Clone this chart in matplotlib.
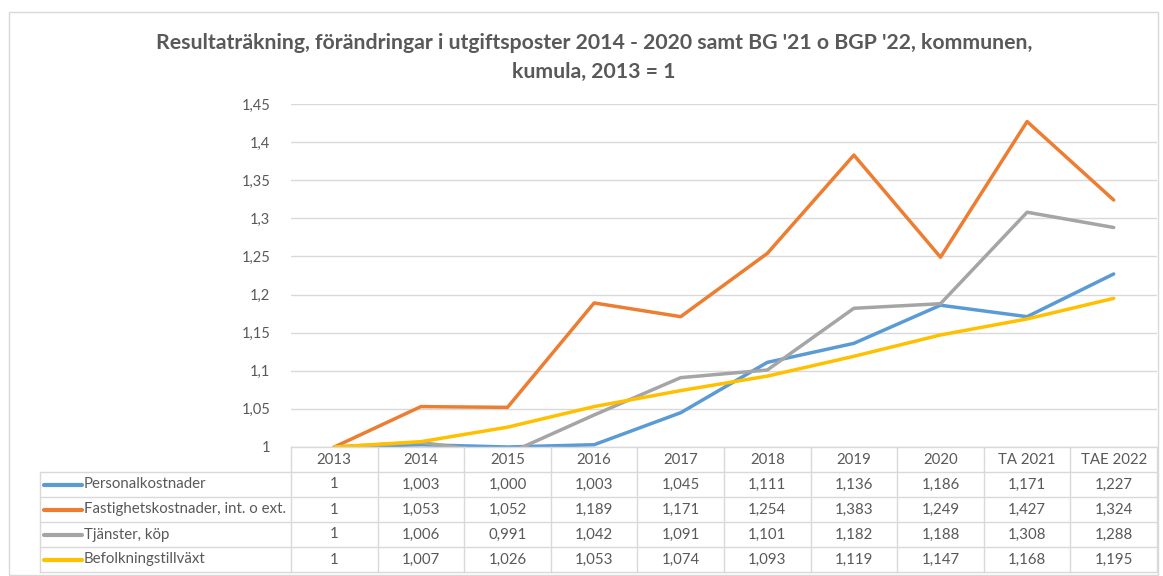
import matplotlib.pyplot as plt
from matplotlib.patches import Rectangle
from matplotlib.lines import Line2D

plt.rcParams['font.family'] = ['Lato', 'DejaVu Sans']

years = ['2013', '2014', '2015', '2016', '2017', '2018', '2019', '2020', 'TA 2021', 'TAE 2022']
personal = [1, 1.003, 1.000, 1.003, 1.045, 1.111, 1.136, 1.186, 1.171, 1.227]
fastighet = [1, 1.053, 1.052, 1.189, 1.171, 1.254, 1.383, 1.249, 1.427, 1.324]
tjanster = [1, 1.006, 0.991, 1.042, 1.091, 1.101, 1.182, 1.188, 1.308, 1.288]
befolkning = [1, 1.007, 1.026, 1.053, 1.074, 1.093, 1.119, 1.147, 1.168, 1.195]

series = [
    ('Personalkostnader', personal, '#5B9BD5'),
    ('Fastighetskostnader, int. o ext.', fastighet, '#ED7D31'),
    ('Tjänster, köp', tjanster, '#A5A5A5'),
    ('Befolkningstillväxt', befolkning, '#FFC000'),
]
yticks = [1, 1.05, 1.1, 1.15, 1.2, 1.25, 1.3, 1.35, 1.4, 1.45]

W, H = 1163, 576
text_col = '#595959'
grid_col = '#D9D9D9'


def box(x0, y0, x1, y1):
    # pixel box (top-left origin) -> figure rect
    return [x0 / W, 1 - y1 / H, (x1 - x0) / W, (y1 - y0) / H]


fig = plt.figure(figsize=(W / 100, H / 100), dpi=100)

# outer chart border
fig.patches.append(Rectangle((9 / W, 1 - 575 / H), (1158 - 9) / W, (575 - 12) / H,
                             transform=fig.transFigure, fill=False,
                             edgecolor=grid_col, linewidth=1))

fig.text(594 / W, 1 - 43 / H, "Resultaträkning, förändringar i utgiftsposter 2014 - 2020 samt BG '21 o BGP '22, kommunen,",
         ha='center', va='center', fontsize=15.3, fontweight='bold', color=text_col)
fig.text(594 / W, 1 - 72 / H, 'kumula, 2013 = 1',
         ha='center', va='center', fontsize=15.3, fontweight='bold', color=text_col)

# line chart
ax = fig.add_axes(box(291, 104, 1157, 447))
x = list(range(len(years)))
for name, vals, col in series:
    ax.plot(x, vals, color=col, linewidth=2.5, solid_capstyle='round', zorder=3)
ax.set_xlim(-0.5, len(years) - 0.5)
ax.set_ylim(1, 1.45)
ax.set_yticks(yticks)
ax.set_yticklabels([f'{v:g}'.replace('.', ',') for v in yticks])
ax.set_xticks([])
ax.tick_params(axis='y', length=0, pad=15, labelsize=10.5, labelcolor=text_col)
ax.grid(axis='y', color=grid_col, linewidth=1)
for s in ax.spines.values():
    s.set_visible(False)

# data table
col_w = (1157 - 291) / len(years)
left = -0.5 - (291 - 40) / col_w
tx = fig.add_axes(box(40, 447, 1157, 572))
tx.set_xlim(left, len(years) - 0.5)
tx.set_ylim(5, 0)
tx.axis('off')


def px(p):
    return left + (p - 40) / col_w


lw = 1
tx.plot([-0.5, len(years) - 0.5], [0, 0], color=grid_col, lw=lw, clip_on=False)
for r in range(1, 6):
    tx.plot([left, len(years) - 0.5], [r, r], color=grid_col, lw=lw, clip_on=False)
for k in range(len(years) + 1):
    tx.plot([k - 0.5, k - 0.5], [0, 5], color=grid_col, lw=lw, clip_on=False)
tx.plot([left, left], [1, 5], color=grid_col, lw=lw, clip_on=False)

for i, yr in enumerate(years):
    tx.text(i, 0.5, yr, ha='center', va='center', fontsize=10.8, color=text_col)

for r, (name, vals, col) in enumerate(series, start=1):
    tx.add_line(Line2D([px(44), px(82)], [r + 0.5, r + 0.5], color=col, lw=3,
                       solid_capstyle='round'))
    tx.text(px(84), r + 0.5, name, ha='left', va='center', fontsize=10.8, color=text_col)
    for i, v in enumerate(vals):
        lab = '1' if i == 0 else f'{v:.3f}'.replace('.', ',')
        tx.text(i, r + 0.5, lab, ha='center', va='center', fontsize=10.8, color=text_col)

fig.savefig('out.png', dpi=100)
